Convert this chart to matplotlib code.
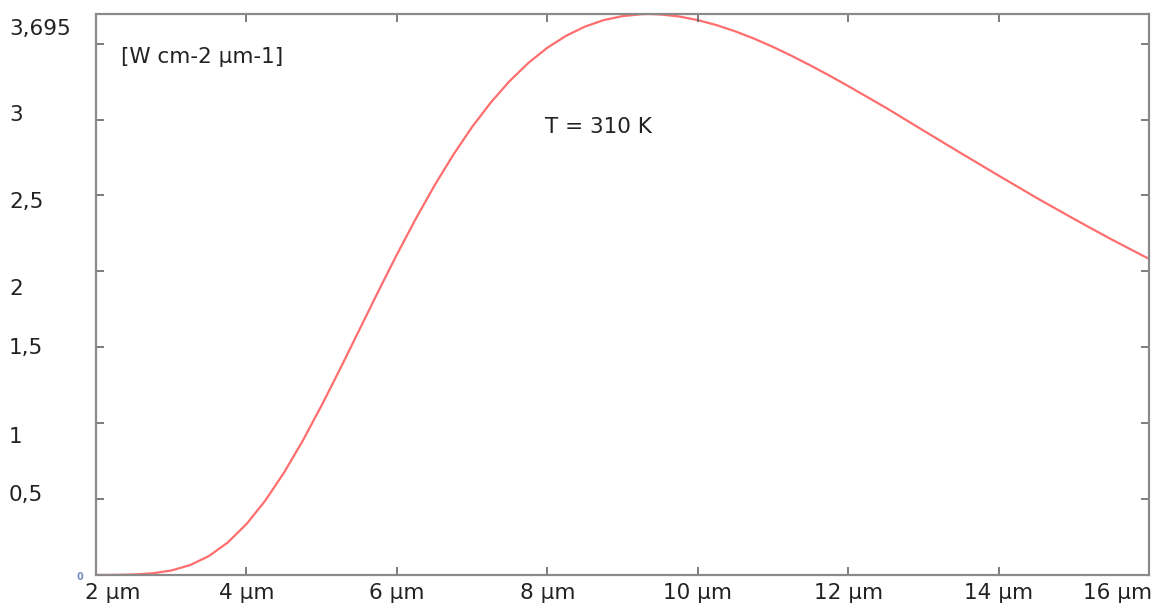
import matplotlib
matplotlib.use("Agg")
import matplotlib.pyplot as plt
from matplotlib.transforms import ScaledTranslation

# wavelength (µm) and spectral exitance
wavelength = [2.0, 2.25, 2.5, 2.75, 3.0, 3.25, 3.5, 3.75, 4.0, 4.25, 4.5, 4.75,
              5.0, 5.25, 5.5, 5.75, 6.0, 6.25, 6.5, 6.75, 7.0, 7.25, 7.5, 7.75,
              8.0, 8.25, 8.5, 8.75, 9.0, 9.25, 9.35, 9.5, 9.75, 10.0, 10.25,
              10.5, 10.75, 11.0, 11.25, 11.5, 11.75, 12.0, 12.5, 13.0, 13.5,
              14.0, 14.5, 15.0, 15.5, 16.0]
exitance = [0.0001, 0.0007, 0.0033, 0.0111, 0.0295, 0.065, 0.1244, 0.2133, 0.335,
            0.4895, 0.6745, 0.8856, 1.1173, 1.3621, 1.6135, 1.8646, 2.1103, 2.3449,
            2.565, 2.7674, 2.9508, 3.1128, 3.2537, 3.3733, 3.4724, 3.5515, 3.6118,
            3.6549, 3.6810, 3.6935, 3.695, 3.6920, 3.6790, 3.6549, 3.6218, 3.5807,
            3.5326, 3.4784, 3.4192, 3.3560, 3.2897, 3.2206, 3.0782, 2.9277, 2.7783,
            2.6309, 2.4854, 2.3460, 2.2106, 2.0822]

x_ticks = [2, 4, 6, 8, 10, 12, 14, 16]
x_labels = ["2 µm", "4 µm", "6 µm", "8 µm", "10 µm", "12 µm", "14 µm", "16 µm"]
y_ticks = [0.5, 1.0, 1.5, 2.0, 2.5, 3.0, 3.695]
y_labels = ["0,5", "1", "1,5", "2", "2,5", "3", "3,695"]
y_minor = [0.5, 1.0, 1.5, 2.0, 2.5, 3.0, 3.5]
unit_text = "[W cm-2 µm-1]"
temp_text = "T = 310 K"

W, H = 1164, 607
FS = 15.5
fig = plt.figure(figsize=(W / 100, H / 100), dpi=100)
ax = fig.add_axes([96 / W, 1 - 575 / H, (1149 - 96) / W, (575 - 14) / H])

ax.plot(wavelength, exitance, color="#ff6e6e", lw=1.6, solid_capstyle="round", zorder=1)
ax.set_xlim(2, 16)
ax.set_ylim(0, 3.695)

spine_col = "#8a8a8a"
for s in ax.spines.values():
    s.set_color(spine_col)
    s.set_linewidth(1.6)

# x ticks
ax.set_xticks(x_ticks)
ax.set_xticklabels(x_labels)
ax.tick_params(axis="x", direction="in", length=6, width=1.2, color="#666666",
               labelsize=FS, pad=6, top=True, labelcolor="#222222")
ax.tick_params(axis="x", which="minor", bottom=False, top=False)
xl = ax.get_xticklabels()
xl[0].set_horizontalalignment("left")
xl[0].set_transform(xl[0].get_transform() + ScaledTranslation(-11 / 100, 0, fig.dpi_scale_trans))
xl[-1].set_horizontalalignment("right")
xl[-1].set_transform(xl[-1].get_transform() + ScaledTranslation(3 / 100, 0, fig.dpi_scale_trans))

# y ticks (marks) via minor ticks, labels via major
ax.yaxis.remove_overlapping_locs = False
ax.set_yticks(y_minor, minor=True)
ax.set_yticks(y_ticks)
ax.set_yticklabels(y_labels)
ax.tick_params(axis="y", which="minor", direction="in", length=6, width=1.2,
               color="#666666", left=True, right=True)
ax.tick_params(axis="y", which="major", length=0, labelsize=FS,
               pad=87 * 0.72, labelcolor="#222222")
for lab in ax.get_yticklabels():
    lab.set_horizontalalignment("left")

# vertical offsets of y labels relative to their ticks (pixels, + = up)
offsets_px = [6, -12, 1, -16, -5, 7, -13]
for lab, off in zip(ax.get_yticklabels(), offsets_px):
    lab.set_transform(lab.get_transform() + ScaledTranslation(0, off / 100, fig.dpi_scale_trans))

fig.text(80 / W, 1 - 577 / H, "0", fontsize=7, color="#6f8fc0", ha="center", va="center",
         fontweight="bold")
fig.text(121 / W, 1 - 57 / H, unit_text, fontsize=FS, color="#222222", ha="left", va="center")
fig.text(545 / W, 1 - 127 / H, temp_text, fontsize=FS, color="#222222", ha="left", va="center")

fig.savefig("out.png", dpi=100, facecolor="white")
